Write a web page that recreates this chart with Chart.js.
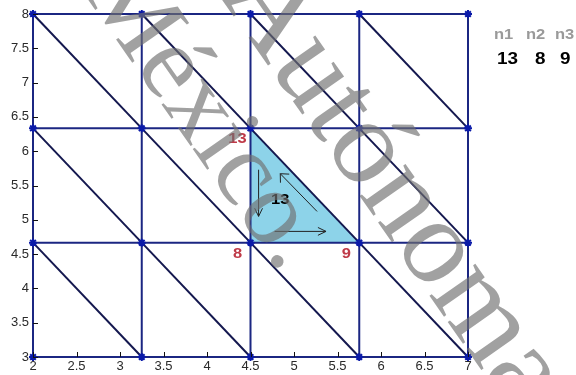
<!DOCTYPE html>
<html>
<head>
<meta charset="utf-8">
<script src="https://cdn.jsdelivr.net/npm/chart.js@4.4.1/dist/chart.umd.min.js"></script>
<style>
  html, body { margin: 0; padding: 0; background: #fff; }
  #wrap { width: 576px; height: 375px; position: relative; }
</style>
</head>
<body>
<div id="wrap"><canvas id="mesh"></canvas></div>
<script>
// Mesh node coordinates (structured triangular mesh)
const nodeX = [2, 3.25, 4.5, 5.75, 7];
const nodeY = [3, 4.6667, 6.3333, 8];

// Axis tick labels
const xTicks = [2, 2.5, 3, 3.5, 4, 4.5, 5, 5.5, 6, 6.5, 7];
const yTicks = [3, 3.5, 4, 4.5, 5, 5.5, 6, 6.5, 7, 7.5, 8];

// Highlighted element: its number and its three nodes (n1, n2, n3)
const elemNumber = 13;
const elemNodes = [13, 8, 9];
const elemX = [4.5, 4.5, 5.75];
const elemY = [6.3333, 4.6667, 4.6667];

// Orientation arrows inside the element (data units): [x0, y0, x1, y1]
const arrows = [
  [4.593, 5.73, 4.593, 5.05],
  [4.777, 4.831, 5.368, 4.831],
  [5.265, 5.122, 4.842, 5.672]
];
const elemLabelPos = [4.842, 5.283];

const GRID = '#1b2682';
const DIAG = '#14184f';
const WIDE = 1.18; // horizontal stretch of annotation text

const datasets = [];

// shaded element
const tri = elemX.map((x, i) => ({ x, y: elemY[i] }));
tri.push({ x: elemX[0], y: elemY[0] });
datasets.push({
  data: tri, showLine: true, fill: 'shape',
  backgroundColor: '#8dd3e9', borderWidth: 0, borderColor: 'rgba(0,0,0,0)',
  pointRadius: 0, order: 5, clip: false
});

// horizontal lines
nodeY.forEach(y => datasets.push({
  data: [{ x: nodeX[0], y }, { x: nodeX[nodeX.length - 1], y }],
  showLine: true, borderColor: GRID, borderWidth: 2, pointRadius: 0, order: 3, clip: false
}));
// vertical lines
nodeX.forEach(x => datasets.push({
  data: [{ x, y: nodeY[0] }, { x, y: nodeY[nodeY.length - 1] }],
  showLine: true, borderColor: GRID, borderWidth: 2, pointRadius: 0, order: 3, clip: false
}));
// cell diagonals
for (let i = 0; i < nodeX.length - 1; i++) {
  for (let j = 0; j < nodeY.length - 1; j++) {
    datasets.push({
      data: [{ x: nodeX[i], y: nodeY[j + 1] }, { x: nodeX[i + 1], y: nodeY[j] }],
      showLine: true, borderColor: DIAG, borderWidth: 2, pointRadius: 0, order: 2, clip: false
    });
  }
}
// node markers
const nodes = [];
nodeX.forEach(x => nodeY.forEach(y => nodes.push({ x, y })));
datasets.push({
  data: nodes, showLine: false, pointStyle: 'star', pointRadius: 4,
  borderColor: '#0a1aa8', backgroundColor: '#0a1aa8', pointBorderWidth: 2,
  order: 1, clip: false
});

const tickFont = { family: '"Liberation Sans", Arial, sans-serif', size: 13 };

function drawArrow(ctx, x0, y0, x1, y1, spread) {
  const a = Math.atan2(y1 - y0, x1 - x0);
  const L = 9;
  ctx.beginPath();
  ctx.moveTo(x0, y0);
  ctx.lineTo(x1, y1);
  ctx.moveTo(x1 - L * Math.cos(a - spread), y1 - L * Math.sin(a - spread));
  ctx.lineTo(x1, y1);
  ctx.lineTo(x1 - L * Math.cos(a + spread), y1 - L * Math.sin(a + spread));
  ctx.stroke();
}

// text drawn slightly wider than the font's natural width
function wideText(ctx, txt, x, y) {
  ctx.save();
  ctx.translate(x, y);
  ctx.scale(WIDE, 1);
  ctx.fillText(txt, 0, 0);
  ctx.restore();
}

const overlay = {
  id: 'overlay',
  afterDraw(chart) {
    const ctx = chart.ctx;
    const xs = chart.scales.x, ys = chart.scales.y;
    const area = chart.chartArea;

    // inward tick marks
    ctx.save();
    ctx.strokeStyle = '#111';
    ctx.lineWidth = 1;
    ctx.beginPath();
    xs.ticks.forEach(t => {
      const px = Math.round(xs.getPixelForValue(t.value)) + 0.5;
      ctx.moveTo(px, area.bottom);
      ctx.lineTo(px, area.bottom - 5);
    });
    ys.ticks.forEach(t => {
      const py = Math.round(ys.getPixelForValue(t.value)) + 0.5;
      ctx.moveTo(area.left, py);
      ctx.lineTo(area.left + 5, py);
    });
    ctx.stroke();

    // node numbers of the element
    ctx.fillStyle = '#bf3a48';
    ctx.font = 'bold 14px "Liberation Sans", Arial, sans-serif';
    ctx.textAlign = 'center';
    ctx.textBaseline = 'middle';
    elemNodes.forEach((n, i) => {
      const px = xs.getPixelForValue(elemX[i]);
      const py = ys.getPixelForValue(elemY[i]);
      wideText(ctx, String(n), px - 13, py + 11);
    });

    // element number
    ctx.fillStyle = '#000';
    ctx.font = 'bold 14px "Liberation Sans", Arial, sans-serif';
    wideText(ctx, String(elemNumber), xs.getPixelForValue(elemLabelPos[0]), ys.getPixelForValue(elemLabelPos[1]));

    // orientation arrows
    ctx.strokeStyle = '#222';
    ctx.lineWidth = 1;
    arrows.forEach((a, i) => {
      drawArrow(ctx,
        xs.getPixelForValue(a[0]), ys.getPixelForValue(a[1]),
        xs.getPixelForValue(a[2]), ys.getPixelForValue(a[3]),
        i === 2 ? 0.75 : 0.45);
    });

    // connectivity table
    ctx.textAlign = 'left';
    ctx.textBaseline = 'alphabetic';
    ctx.font = 'bold 14px "Liberation Sans", Arial, sans-serif';
    ctx.fillStyle = '#9a9a9a';
    ['n1', 'n2', 'n3'].forEach((h, i) => wideText(ctx, h, [494, 526, 555][i], 39));
    ctx.fillStyle = '#000';
    ctx.font = 'bold 16px "Liberation Sans", Arial, sans-serif';
    elemNodes.forEach((n, i) => wideText(ctx, String(n), [497, 535, 560][i], 64));

    // watermark
    ctx.fillStyle = 'rgba(112,112,112,0.66)';
    const ang = 55 * Math.PI / 180;
    [['México.', 80, -12, 106], ['Autónoma', 218, -6, 122]].forEach(([txt, tx, ty, size]) => {
      ctx.save();
      ctx.font = size + 'px "Liberation Serif", "Times New Roman", serif';
      ctx.translate(tx, ty);
      ctx.rotate(ang);
      ctx.fillText(txt, 0, 0);
      ctx.restore();
    });
    ctx.restore();
  }
};

new Chart(document.getElementById('mesh'), {
  type: 'scatter',
  data: { datasets },
  options: {
    responsive: true,
    maintainAspectRatio: false,
    animation: false,
    events: [],
    layout: { padding: { top: 14, right: 108, left: 0, bottom: 0 } },
    plugins: { legend: { display: false }, tooltip: { enabled: false } },
    scales: {
      x: {
        type: 'linear', min: 2, max: 7,
        afterBuildTicks: s => { s.ticks = xTicks.map(v => ({ value: v })); },
        afterFit: s => { s.height = 18; },
        ticks: { autoSkip: false, maxRotation: 0, padding: 2, color: '#2a2a2a', font: tickFont,
                 callback: v => String(v) },
        grid: { drawOnChartArea: false, drawTicks: false },
        border: { display: true, color: '#111', width: 1 }
      },
      y: {
        type: 'linear', min: 3, max: 8,
        afterBuildTicks: s => { s.ticks = yTicks.map(v => ({ value: v })); },
        afterFit: s => { s.width = 33; },
        ticks: { autoSkip: false, padding: 4, color: '#2a2a2a', font: tickFont,
                 callback: v => String(v) },
        grid: { drawOnChartArea: false, drawTicks: false },
        border: { display: true, color: '#111', width: 1 }
      }
    }
  },
  plugins: [overlay]
});
</script>
</body>
</html>
